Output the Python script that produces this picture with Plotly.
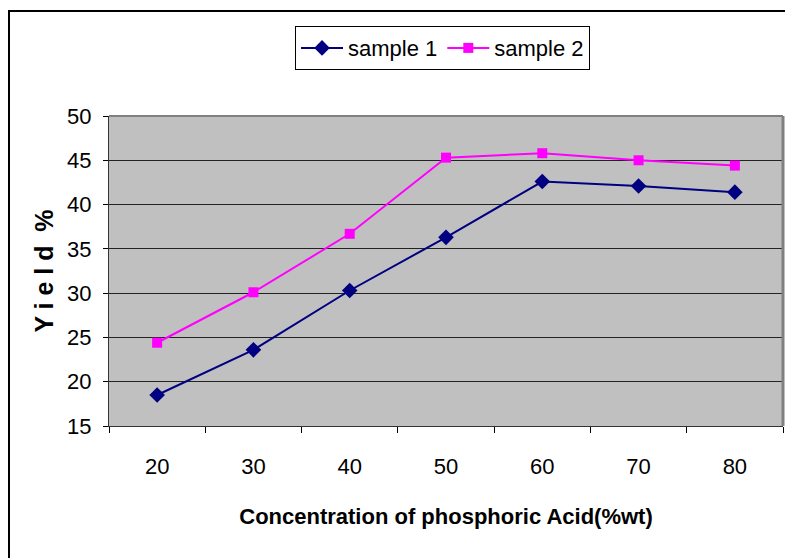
import plotly.graph_objects as go

concentration = ["20", "30", "40", "50", "60", "70", "80"]
sample_1 = [18.5, 23.6, 30.3, 36.3, 42.6, 42.1, 41.4]
sample_2 = [24.4, 30.1, 36.7, 45.3, 45.8, 45.0, 44.4]

FONT = "Liberation Sans, Arial"

fig = go.Figure()
fig.add_trace(go.Scatter(
    x=concentration, y=sample_1, name="sample 1", mode="lines+markers",
    line=dict(color="#000080", width=2),
    marker=dict(symbol="diamond", size=12, color="#000080"),
))
fig.add_trace(go.Scatter(
    x=concentration, y=sample_2, name="sample 2", mode="lines+markers",
    line=dict(color="#FF00FF", width=2),
    marker=dict(symbol="square", size=10, color="#FF00FF"),
))

fig.update_layout(
    width=785, height=558,
    margin=dict(l=109, r=2, t=116, b=132),
    paper_bgcolor="white", plot_bgcolor="#C0C0C0",
    font=dict(family=FONT, size=20, color="black"),
    showlegend=True,
    legend=dict(
        orientation="h", x=0.276, y=1.29, xanchor="left", yanchor="top",
        bgcolor="white", bordercolor="black", borderwidth=1,
        font=dict(family=FONT, size=22), itemwidth=42,
    ),
    xaxis=dict(
        type="category", range=[-0.5, 6.5], tickson="boundaries",
        ticks="outside", ticklen=6, tickcolor="black", showgrid=False,
        showline=True, linecolor="#333333", linewidth=1,
        ticklabelstandoff=21, tickfont=dict(family=FONT, size=22),
        title=dict(text="<b>Concentration of phosphoric Acid(%wt)</b>",
                   font=dict(family=FONT, size=22), standoff=30),
    ),
    yaxis=dict(
        range=[15, 50], dtick=5, ticks="outside", ticklen=5, tickcolor="black",
        showgrid=True, gridcolor="#222222", gridwidth=1,
        showline=True, linecolor="#333333", linewidth=1,
        zeroline=False, ticklabelstandoff=7, tickfont=dict(family=FONT, size=22),
        title=dict(text="<b>Y i e l d  %</b>", font=dict(family=FONT, size=25),
                   standoff=6),
    ),
    shapes=[
        # grey frame on the top and right of the plotting area
        dict(type="line", xref="paper", yref="paper", x0=0, x1=1, y0=1, y1=1,
             line=dict(color="#808080", width=2)),
        dict(type="line", xref="paper", yref="paper", x0=1, x1=1, y0=0, y1=1,
             line=dict(color="#808080", width=3)),
        # outer chart border
        dict(type="rect", xref="paper", yref="paper",
             x0=(9 - 109) / 674, x1=1.2, y0=(558 - 132 - 11) / 310, y1=-0.6,
             line=dict(color="black", width=2), layer="below"),
    ],
)

fig.write_html("out.html")
